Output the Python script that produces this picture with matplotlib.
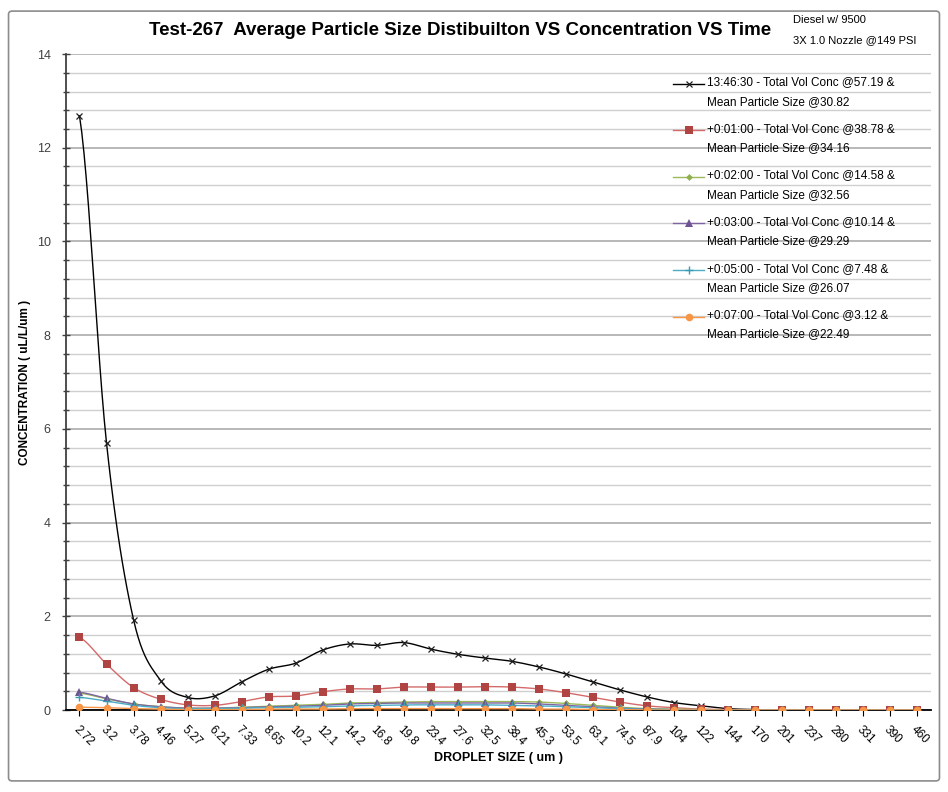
import numpy as np
import matplotlib
matplotlib.use('Agg')
import matplotlib.pyplot as plt
from matplotlib.patches import FancyBboxPatch
from matplotlib.legend_handler import HandlerLine2D

plt.rcParams['font.family'] = ['Liberation Sans Narrow', 'Liberation Sans', 'DejaVu Sans']

sizes = ['2.72', '3.2', '3.78', '4.46', '5.27', '6.21', '7.33', '8.65', '10.2', '12.1',
         '14.2', '16.8', '19.8', '23.4', '27.6', '32.5', '38.4', '45.3', '53.5', '63.1',
         '74.5', '87.9', '104', '122', '144', '170', '201', '237', '280', '331', '390', '460']

conc_134630 = [12.68, 5.70, 1.93, 0.63, 0.27, 0.30, 0.60, 0.87, 1.00, 1.28, 1.41, 1.38, 1.44,
               1.30, 1.19, 1.11, 1.04, 0.92, 0.77, 0.60, 0.43, 0.28, 0.16, 0.09, 0.03, 0.01,
               0, 0, 0, 0, 0, 0]
conc_0100 = [1.55, 0.98, 0.48, 0.23, 0.11, 0.10, 0.18, 0.28, 0.30, 0.39, 0.45, 0.45, 0.49,
             0.49, 0.49, 0.50, 0.49, 0.45, 0.37, 0.27, 0.17, 0.09, 0.05, 0.02, 0.01, 0.0,
             0, 0, 0, 0, 0, 0]
conc_0200 = [0.36, 0.24, 0.13, 0.07, 0.04, 0.04, 0.06, 0.08, 0.10, 0.12, 0.15, 0.16, 0.17,
             0.18, 0.18, 0.18, 0.18, 0.17, 0.14, 0.10, 0.06, 0.03, 0.02, 0.01, 0.0, 0.0,
             0, 0, 0, 0, 0, 0]
conc_0300 = [0.38, 0.25, 0.13, 0.07, 0.04, 0.04, 0.05, 0.07, 0.08, 0.10, 0.13, 0.14, 0.15,
             0.15, 0.15, 0.15, 0.15, 0.13, 0.10, 0.07, 0.04, 0.02, 0.01, 0.0, 0.0, 0.0,
             0, 0, 0, 0, 0, 0]
conc_0500 = [0.27, 0.19, 0.10, 0.05, 0.03, 0.03, 0.04, 0.05, 0.06, 0.07, 0.09, 0.10, 0.11,
             0.11, 0.11, 0.11, 0.10, 0.09, 0.07, 0.05, 0.03, 0.01, 0.01, 0.0, 0.0, 0.0,
             0, 0, 0, 0, 0, 0]
conc_0700 = [0.06, 0.05, 0.03, 0.02, 0.01, 0.01, 0.01, 0.02, 0.02, 0.02, 0.03, 0.03, 0.03,
             0.03, 0.03, 0.03, 0.03, 0.02, 0.02, 0.01, 0.01, 0.0, 0.0, 0.0, 0.0, 0.0,
             0, 0, 0, 0, 0, 0]

labels = ['13:46:30 - Total Vol Conc @57.19 &\nMean Particle Size @30.82',
          '+0:01:00 - Total Vol Conc @38.78 &\nMean Particle Size @34.16',
          '+0:02:00 - Total Vol Conc @14.58 &\nMean Particle Size @32.56',
          '+0:03:00 - Total Vol Conc @10.14 &\nMean Particle Size @29.29',
          '+0:05:00 - Total Vol Conc @7.48 &\nMean Particle Size @26.07',
          '+0:07:00 - Total Vol Conc @3.12 &\nMean Particle Size @22.49']


def smooth(y, n=12):
    # catmull-rom style smoothing like excel "smoothed line"
    y = np.asarray(y, float)
    x = np.arange(len(y), dtype=float)
    p = np.concatenate([[y[0]], y, [y[-1]]])
    xs, ys = [], []
    t = np.linspace(0, 1, n, endpoint=False)
    for i in range(len(y) - 1):
        p0, p1, p2, p3 = p[i], p[i + 1], p[i + 2], p[i + 3]
        seg = 0.5 * ((2 * p1) + (-p0 + p2) * t + (2 * p0 - 5 * p1 + 4 * p2 - p3) * t ** 2
                     + (-p0 + 3 * p1 - 3 * p2 + p3) * t ** 3)
        xs.append(x[i] + t)
        ys.append(seg)
    xs.append([x[-1]])
    ys.append([y[-1]])
    return np.concatenate(xs), np.concatenate(ys)


class HandlerTop(HandlerLine2D):
    # put the legend key next to the first text line
    def create_artists(self, legend, orig_handle, xdescent, ydescent, width, height, fontsize, trans):
        return super().create_artists(legend, orig_handle, xdescent, ydescent - 1.45 * fontsize,
                                      width, height, fontsize, trans)


fig = plt.figure(figsize=(9.48, 7.92), dpi=100)
fig.patches.append(FancyBboxPatch((0.009, 0.014), 0.982, 0.972, boxstyle='round,pad=0,rounding_size=0.004',
                                  transform=fig.transFigure, fill=False, edgecolor='#8c8c8c', lw=1.2))
ax = fig.add_axes([0.0696, 0.1035, 0.912, 0.8283])

series = [
    (conc_134630, dict(color='black', lw=1.0), dict(marker='x', color='#202020', ms=5, mew=0.9)),
    (conc_0100, dict(color='#d46a6a', lw=1.0), dict(marker='s', color='#b04442', ms=5.5, mew=0)),
    (conc_0200, dict(color='#9bbb59', lw=1.0), dict(marker='D', color='#8fb04c', ms=3.5, mew=0)),
    (conc_0300, dict(color='#8064a2', lw=1.0), dict(marker='^', color='#6f5493', ms=5.5, mew=0)),
    (conc_0500, dict(color='#4bacc6', lw=1.0), dict(marker='+', color='#3a9ab4', ms=6, mew=1.0)),
    (conc_0700, dict(color='#f79646', lw=1.0), dict(marker='o', color='#f79646', ms=5.5, mew=0)),
]

x = np.arange(len(sizes))
handles = []
for vals, lstyle, mstyle in series:
    sx, sy = smooth(vals)
    ax.plot(sx, sy, zorder=3, **lstyle)
    ax.plot(x, vals, ls='none', zorder=4, **mstyle)
    h, = ax.plot([], [], color=lstyle['color'], lw=1.0, marker=mstyle['marker'],
                 mfc=mstyle['color'], mec=mstyle['color'], ms=mstyle['ms'], mew=mstyle['mew'])
    handles.append(h)

ax.set_xlim(-0.5, len(sizes) - 0.5)
ax.set_ylim(0, 14)
ax.set_xticks(x)
ax.set_xticklabels(sizes, rotation=-45, ha='left', va='top', rotation_mode='anchor', fontsize=8.5)
ax.set_yticks(np.arange(0, 15, 2))
ax.set_yticks(np.arange(0, 14.01, 0.4), minor=True)
ax.tick_params(axis='y', which='major', direction='inout', length=6, width=1, labelsize=9,
               colors='#404040', pad=8)
ax.tick_params(axis='y', which='minor', direction='inout', length=5, width=1, color='#404040')
ax.tick_params(axis='x', direction='out', length=4, width=0.8, pad=6)
ax.grid(True, axis='y', which='minor', color='#cfcfcf', lw=1.0)
ax.grid(True, axis='y', which='major', color='#ababab', lw=1.2)
ax.set_axisbelow(True)
for s in ['top', 'right']:
    ax.spines[s].set_visible(False)
ax.spines['left'].set_color('#404040')
ax.spines['left'].set_linewidth(1.3)
ax.spines['bottom'].set_color('black')
ax.spines['bottom'].set_linewidth(1.3)

ax.set_xlabel('DROPLET SIZE ( um )', fontsize=9, fontweight='bold', labelpad=2)
ax.set_ylabel('CONCENTRATION ( uL/L/um )', fontsize=8.5, fontweight='bold')
ax.yaxis.set_label_coords(-0.04, 0.5)

leg = ax.legend(handles, labels, loc='upper left', bbox_to_anchor=(0.69, 0.982), frameon=False,
                fontsize=8.5, handlelength=2.6, handletextpad=0.3, labelspacing=1.3,
                handler_map={h: HandlerTop() for h in handles})
for t in leg.get_texts():
    t.set_linespacing(1.8)

fig.text(0.157, 0.962, 'Test-267  Average Particle Size Distibuilton VS Concentration VS Time',
         fontsize=13.5, fontweight='bold', ha='left', va='center')
fig.text(0.836, 0.975, 'Diesel w/ 9500', fontsize=8, ha='left', va='center')
fig.text(0.836, 0.949, '3X 1.0 Nozzle @149 PSI', fontsize=8, ha='left', va='center')

fig.savefig('out.png', dpi=100)
